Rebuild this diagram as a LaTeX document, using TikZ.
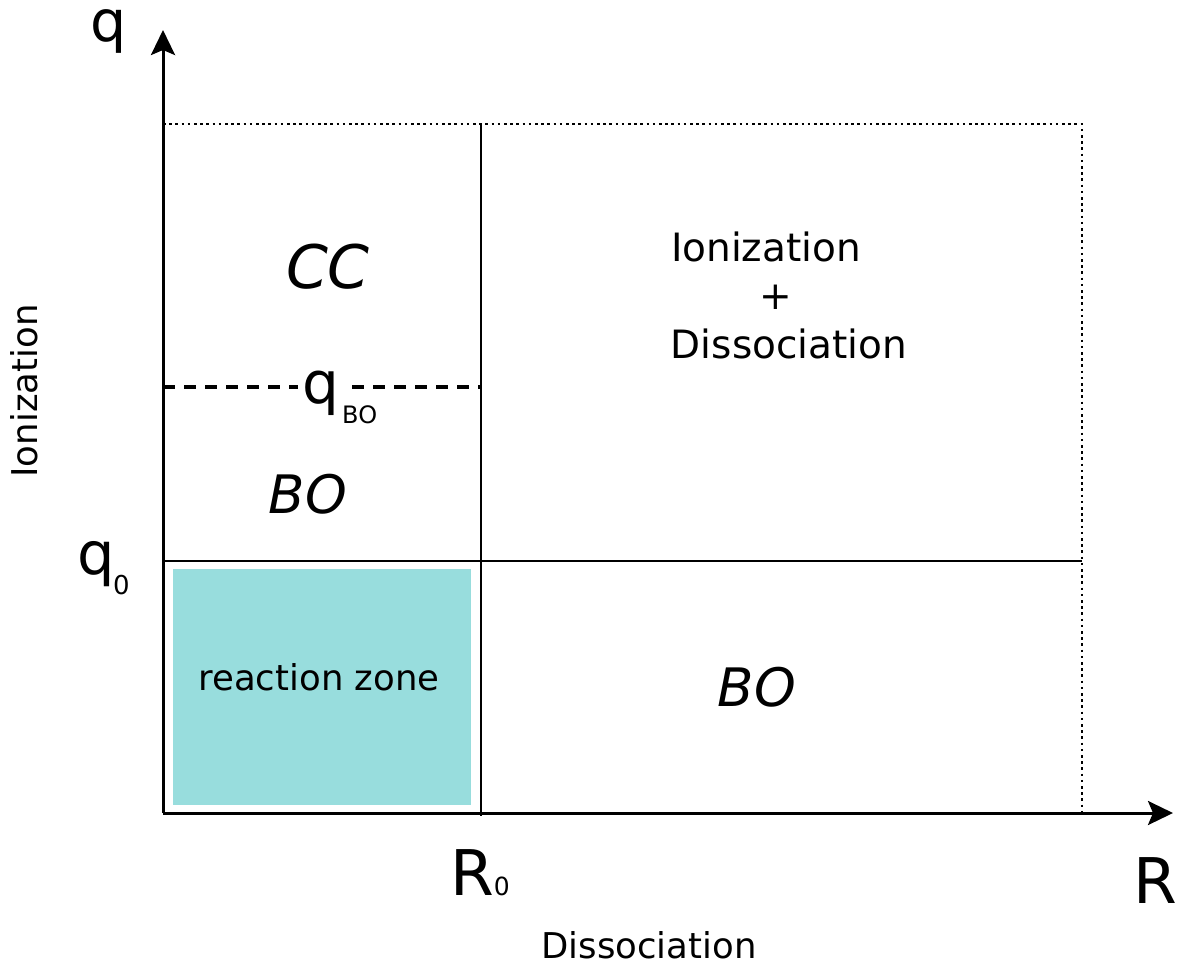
\documentclass[tikz,border=0pt]{standalone}
\usepackage{fontspec}
\setmainfont{DejaVu Sans}
\usetikzlibrary{arrows.meta}
\definecolor{zone}{HTML}{98DDDD}
\begin{document}
\begin{tikzpicture}[x=1pt,y=-1pt,
  axis/.style={line width=3pt,-{Stealth[length=25pt,width=24pt,inset=5pt]}},
  thin/.style={line width=1.4pt},
  dotline/.style={line width=2.6pt,dash pattern=on 2.6pt off 3.6pt},
  dashline/.style={line width=3.6pt,dash pattern=on 12pt off 9pt},
  lbl/.style={inner sep=0pt,anchor=base,font=\fontsize{#1}{#1}\selectfont},
  lbl/.default=36]
\useasboundingbox (0,0) rectangle (1182,967);
% regions
\fill[zone] (173,569) rectangle (471,805);
\coordinate (O) at (163,813);
\coordinate (yt) at (163,30);
\coordinate (xt) at (1173,813);
\draw[dotline] (163,124) -- (1082,124) -- (1082,813);
\draw[thin] (481,124) -- (481,816);
\draw[thin] (163,561) -- (1082,561);
\draw[dashline] (163,387) -- (481,387);
% axes
\draw[axis] (O) -- (yt);
\draw[axis] (O) -- (xt);
% labels
\node[lbl=58, fill=white, inner xsep=5pt, inner ysep=2pt] (qbo) at (321,403) {q};
\node[lbl=24, anchor=base west] (qbosub) at (342,423) {BO};
\node[lbl=60] (cc) at (328,288) {\itshape CC};
\node[lbl=53] (bo1) at (308,513) {\itshape BO};
\node[lbl=53] (bo2) at (757,706) {\itshape BO};
\node[lbl=39] (ion1) at (766,261) {Ionization};
\node[lbl=39, anchor=center] (plus) at (776,297) {+};
\node[lbl=39] (ion2) at (789,358) {Dissociation};
\node[lbl=35.5] (rz) at (319,690) {reaction zone};
\node[lbl=57] (q) at (109,41) {q};
\node[lbl=59, anchor=base west] (q0) at (77,574) {q};
\node[lbl=26, anchor=base west] (q0sub) at (113,594) {0};
\node[lbl=63] (r0) at (480,895) {R\fontsize{25}{25}\selectfont 0};
\node[lbl=63] (r) at (1155,903) {R};
\node[lbl=35.5] (dis) at (649,958) {Dissociation};
\node[lbl=35.5, rotate=90] (ionl) at (37,391) {Ionization};
\end{tikzpicture}
\end{document}
